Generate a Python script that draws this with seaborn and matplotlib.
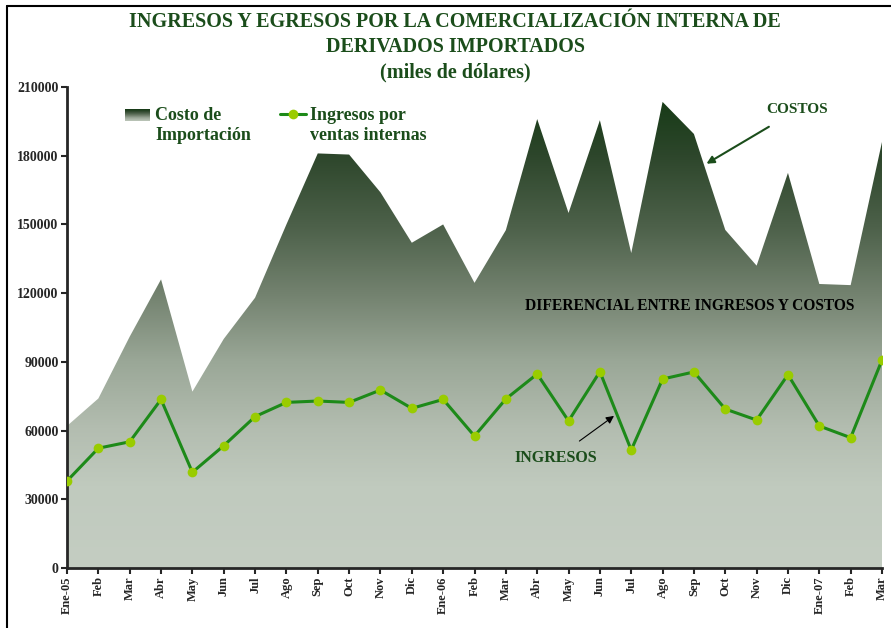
import matplotlib
matplotlib.use('Agg')

import matplotlib.pyplot as plt
import seaborn as sns
import pandas as pd
import numpy as np
from matplotlib.colors import LinearSegmentedColormap
from matplotlib.lines import Line2D

months = ['Ene-05', 'Feb', 'Mar', 'Abr', 'May', 'Jun', 'Jul', 'Ago', 'Sep', 'Oct', 'Nov', 'Dic',
          'Ene-06', 'Feb', 'Mar', 'Abr', 'May', 'Jun', 'Jul', 'Ago', 'Sep', 'Oct', 'Nov', 'Dic',
          'Ene-07', 'Feb', 'Mar']
costos = [62000, 74000, 101000, 126000, 77000, 100000, 118000, 150000, 181000, 180500, 164000, 142000,
          150000, 124500, 147500, 196000, 155000, 195500, 137500, 203500, 189500, 147600, 132000, 172500,
          124000, 123500, 186000]
ingresos = [38000, 52300, 55100, 73600, 41800, 53400, 66100, 72300, 72900, 72300, 77700, 69700,
            73600, 57600, 73800, 84700, 64200, 85700, 51500, 82500, 85600, 69400, 64600, 84400,
            62000, 56900, 90800]
yticks = [0, 30000, 60000, 90000, 120000, 150000, 180000, 210000]

df = pd.DataFrame({'idx': range(len(months)), 'Costo': costos, 'Ingresos': ingresos})

sns.set_style('ticks')
plt.rcParams['font.family'] = ['Liberation Serif', 'DejaVu Serif']

dark_green = '#1b4d1b'
fig = plt.figure(figsize=(8.91, 6.28), dpi=100)
ax = fig.add_axes([67 / 891, 60 / 628, 815 / 891, 481 / 628])

# gradient filled area for the costs
poly = ax.fill_between(df['idx'], df['Costo'], 0, color='none', linewidth=0)
grad_cmap = LinearSegmentedColormap.from_list('costgrad', [
    (0.0, '#c4cdc2'), (0.17, '#c0cabe'), (0.29, '#b3bdb0'), (0.43, '#9aa797'),
    (0.57, '#73826f'), (0.71, '#4d614a'), (0.86, '#2d462b'), (1.0, '#123812')])
grad = np.linspace(0, 1, 256).reshape(-1, 1)
img = ax.imshow(grad, cmap=grad_cmap, origin='lower', aspect='auto',
                extent=[0, len(months) - 1, 0, 210000], zorder=1)
img.set_clip_path(poly.get_paths()[0], transform=ax.transData)

sns.lineplot(data=df, x='idx', y='Ingresos', ax=ax, color='#1d8a19', linewidth=2.2,
             marker='o', markersize=7, markerfacecolor='#99cc00', markeredgewidth=0, zorder=3)

ax.set_xlim(0, len(months) - 1)
ax.set_ylim(0, 210000)
ax.set_xticks(range(len(months)))
ax.set_xticklabels(months, rotation=90, fontsize=9, fontweight='bold')
ax.set_yticks(yticks)
ax.set_yticklabels([str(v) for v in yticks], fontsize=10, fontweight='bold')
ax.set_xlabel('')
ax.set_ylabel('')
for side in ['top', 'right']:
    ax.spines[side].set_visible(False)
for side in ['left', 'bottom']:
    ax.spines[side].set_linewidth(2)
ax.tick_params(axis='both', width=1.5, length=4, pad=2)

# title - three lines placed like the original
title_lines = ['INGRESOS Y EGRESOS POR LA COMERCIALIZACIÓN INTERNA DE',
               'DERIVADOS IMPORTADOS', '(miles de dólares)']
for txt, ypix in zip(title_lines, [22, 47, 72]):
    fig.text(0.511, 1 - ypix / 628, txt, ha='center', va='center', fontsize=14.5,
             fontweight='bold', color=dark_green)

# manual legend
lx = fig.add_axes([125 / 891, (628 - 121) / 628, 25 / 891, 12 / 628])
lx.imshow(grad[::-1][:200], cmap=grad_cmap, aspect='auto', vmin=0, vmax=1)
lx.axis('off')
fig.text(155 / 891, 1 - 115 / 628, 'Costo de', ha='left', va='center', fontsize=13,
         fontweight='bold', color=dark_green)
fig.text(155 / 891, 1 - 135 / 628, 'Importación', ha='left', va='center', fontsize=13,
         fontweight='bold', color=dark_green)
fig.add_artist(Line2D([280 / 891, 306 / 891], [1 - 114 / 628] * 2, color='#1d8a19', linewidth=2.2,
                      transform=fig.transFigure))
fig.add_artist(Line2D([293 / 891], [1 - 114 / 628], marker='o', markersize=7, color='#99cc00',
                      markeredgewidth=0, transform=fig.transFigure))
fig.text(310 / 891, 1 - 115 / 628, 'Ingresos por', ha='left', va='center', fontsize=13,
         fontweight='bold', color=dark_green)
fig.text(310 / 891, 1 - 135 / 628, 'ventas internas', ha='left', va='center', fontsize=13,
         fontweight='bold', color=dark_green)

# annotations
ax.annotate('COSTOS', xy=(20.4, 176500), xytext=(23.3, 200000), fontsize=11, fontweight='bold',
            color=dark_green, ha='center', va='center',
            arrowprops=dict(arrowstyle='-|>', color=dark_green, lw=1.5, shrinkA=10, shrinkB=0))
ax.text(19.87, 114400, 'DIFERENCIAL ENTRE INGRESOS Y COSTOS', fontsize=11.2, fontweight='bold',
        color='black', ha='center', va='center', zorder=4)
ax.annotate('INGRESOS', xy=(17.45, 66400), xytext=(15.6, 48000), fontsize=11.5, fontweight='bold',
            color=dark_green, ha='center', va='center', zorder=4,
            arrowprops=dict(arrowstyle='-|>', color='black', lw=0.8, shrinkA=7, shrinkB=0))

# outer frame (top and left)
fig.add_artist(Line2D([7 / 891, 1], [1 - 6 / 628] * 2, color='black', linewidth=1.5,
                      transform=fig.transFigure))
fig.add_artist(Line2D([7 / 891] * 2, [0, 1 - 6 / 628], color='black', linewidth=1.5,
                      transform=fig.transFigure))

plt.savefig('out.png', dpi=100)
plt.close()
